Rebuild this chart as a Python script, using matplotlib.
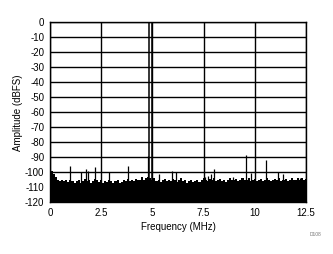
import numpy as np
import matplotlib
matplotlib.use("Agg")
import matplotlib.pyplot as plt

plt.rcParams['font.family'] = ['Liberation Sans', 'DejaVu Sans']
plt.rcParams['axes.unicode_minus'] = False

# 잡음 바닥 (0.1 MHz 간격, dBFS)
noise_freq = np.arange(126) * 0.1
noise_level = [
    -98, -99, -101, -103,
    -105, -106, -105.5, -106, -105, -106.5, -105.5,
    -106, -107, -106, -105.5, -107, -106, -104.5, -106, -105, -107,
    -106, -104.5, -105, -106.5, -105, -107, -106, -106.5, -105, -106,
    -107, -106, -105.5, -107, -106.5, -105, -106, -104.5, -106, -105,
    -106, -104.5, -105, -105.5, -103.5, -105, -104, -103.5, -104, -105,
    -104, -106, -105, -106.5, -105, -104.5, -106, -105, -106, -104.5,
    -105, -106.5, -105, -104, -106, -105.5, -107, -106, -105, -106.5,
    -106, -105, -106.5, -105.5, -104, -105, -106, -104.5, -105, -104,
    -106, -105, -104.5, -106, -105, -106.5, -105, -104, -105.5, -105,
    -104.5, -106, -105, -104, -105.5, -105, -104, -106, -105, -104.5,
    -106, -105, -104.5, -106, -105, -104, -105.5, -106, -105, -104.5,
    -105, -104, -106, -105.5, -104.5, -106, -105, -104, -105.5, -105,
    -104, -105.5, -104, -105, -104.5,
]

# 스퍼 (MHz, dBFS)
spur_freq = [0.98, 1.54, 1.75, 1.85, 2.22, 2.9, 3.79, 4.78, 5.33, 5.98, 6.13,
             7.58, 7.71, 7.86, 8.0, 8.94, 9.57, 9.79, 10.56, 11.15, 11.36, 12.2]
spur_level = [-95.8, -100, -97.8, -99.5, -96.3, -100, -95.6, -89, -101, -99, -100,
              -103, -102.5, -101, -97.8, -103, -88.5, -100.3, -91.8, -100, -101, -104]

# 두 톤
tone_freq = [4.83, 5.0]
tone_level = [0, 0]

x_ticks = [0, 2.5, 5, 7.5, 10, 12.5]
x_labels = ['0', '2.5', '5', '7.5', '10', '12.5']
y_ticks = list(range(-120, 1, 10))

fig = plt.figure(figsize=(3.33, 2.54), dpi=100)
ax = fig.add_axes([0.150, 0.204, 0.769, 0.708])

ax.fill_between(noise_freq, -120, noise_level, step='mid', color='black', lw=0)
ax.vlines(spur_freq, -120, spur_level, color='black', lw=0.9)
ax.vlines(tone_freq, -120, tone_level, color='black', lw=1.1)

ax.set_xlim(0, 12.5)
ax.set_ylim(-120, 0)
ax.set_xticks(x_ticks)
ax.set_xticklabels(x_labels)
ax.set_yticks(y_ticks)
ax.grid(True, color='black', lw=1.0)
ax.set_axisbelow(False)
ax.tick_params(length=0, labelsize=7, pad=4)
for s in ax.spines.values():
    s.set_color('black')
    s.set_linewidth(1.0)

ax.set_xlabel('Frequency (MHz)', fontsize=7, labelpad=3)
ax.set_ylabel('Amplitude (dBFS)', fontsize=7, labelpad=1.5)

fig.text(0.93, 0.075, 'D108', fontsize=3.5, color='#777777', ha='left', va='center')

fig.savefig('out.png', dpi=100)
